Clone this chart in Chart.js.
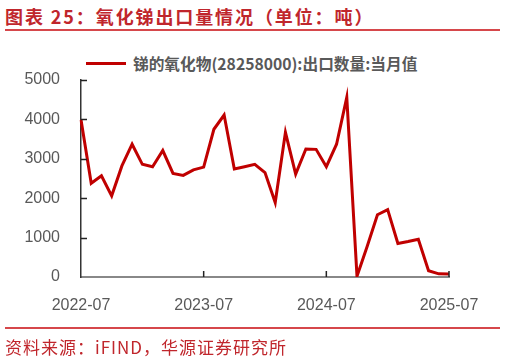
<!DOCTYPE html>
<html><head><meta charset="utf-8">
<script src="https://cdn.jsdelivr.net/npm/chart.js@4"></script>
<style>
body{margin:0;width:506px;height:361px;background:#fff;position:relative;overflow:hidden;font-family:"Noto Sans CJK SC",sans-serif;}
#title{position:absolute;left:5px;top:3px;font-size:18px;font-weight:bold;color:#c0262c;letter-spacing:1.9px;line-height:26px;white-space:nowrap}
.rule{position:absolute;left:5px;width:495px;height:2px;background:#d6474b}
#legend{position:absolute;left:86px;top:52px;height:22px;display:flex;align-items:center;white-space:nowrap}
#legend .sw{width:40px;height:3px;background:#c00000;margin-right:7px}
#legend span{font-size:15.7px;font-weight:bold;color:#595959}
#footer{position:absolute;left:5px;top:335px;font-size:17px;color:#c0262c;line-height:24px;letter-spacing:1px;white-space:nowrap}
canvas{position:absolute;left:0;top:0}
</style></head>
<body>
<div id="title">图表 25：氧化锑出口量情况（单位：吨）</div>
<div class="rule" style="top:29px"></div>
<div id="legend"><div class="sw"></div><span>锑的氧化物(28258000):出口数量:当月值</span></div>
<canvas id="c" width="506" height="361"></canvas>
<div class="rule" style="top:327px"></div>
<div id="footer">资料来源：iFIND，华源证券研究所</div>
<script>
const categories = ['2022-07','2022-08','2022-09','2022-10','2022-11','2022-12',
'2023-01','2023-02','2023-03','2023-04','2023-05','2023-06','2023-07','2023-08','2023-09','2023-10','2023-11','2023-12',
'2024-01','2024-02','2024-03','2024-04','2024-05','2024-06','2024-07','2024-08','2024-09','2024-10','2024-11','2024-12',
'2025-01','2025-02','2025-03','2025-04','2025-05','2025-06','2025-07'];
const exportValues = [3990,2380,2570,2060,2820,3370,
2860,2800,3210,2630,2580,2720,2790,3750,4110,2740,2800,2860,
2650,1890,3670,2610,3250,3240,2800,3370,4560,20,780,1580,
1710,850,900,960,160,80,75];
const xTickLabels = ['2022-07','2023-07','2024-07','2025-07'];
const yTickValues = [0,1000,2000,3000,4000,5000];

const innerTicks = {
  id:'innerTicks',
  afterDraw(chart){
    const ctx = chart.ctx, x = chart.scales.x, y = chart.scales.y;
    ctx.save();
    ctx.strokeStyle = '#222';
    ctx.lineWidth = 1.5;
    ctx.beginPath();
    yTickValues.forEach(v=>{
      const py = Math.round(y.getPixelForValue(v))+0.5;
      if (v>0){ctx.moveTo(x.left, py); ctx.lineTo(x.left+6, py);}
    });
    categories.forEach((c,i)=>{
      if (xTickLabels.includes(c) && i>0){
        const px = x.getPixelForValue(i);
        ctx.moveTo(px, y.bottom); ctx.lineTo(px, y.bottom-6);
      }
    });
    ctx.stroke();
    ctx.restore();
  }
};

new Chart(document.getElementById('c'), {
  type:'line',
  data:{labels:categories, datasets:[{label:'锑的氧化物(28258000):出口数量:当月值', data:exportValues,
    borderColor:'#c00000', borderWidth:3, pointRadius:0, tension:0, fill:false}]},
  options:{
    responsive:false, animation:false,
    layout:{padding:{top:80,right:57,bottom:0,left:0}},
    plugins:{legend:{display:false}, tooltip:{enabled:false}},
    scales:{
      x:{type:'category', offset:false,
        grid:{display:false},
        border:{display:true,color:'#888',width:2},
        afterFit(s){s.height=84;},
        ticks:{autoSkip:false,maxRotation:0,padding:11,color:'#595959',
          font:{family:'"Liberation Sans", Arial',size:16},
          callback(v,i){const l=categories[i];return xTickLabels.includes(l)?l:'';}}
      },
      y:{min:0,max:5000,
        grid:{display:false},
        border:{display:true,color:'#333',width:1.5},
        afterFit(s){s.width=81;},
        ticks:{stepSize:1000,padding:13,color:'#595959',
          font:{family:'"Liberation Sans", Arial',size:16},
          callback(v){return String(v);}}
      }
    }
  },
  plugins:[innerTicks]
});
</script>
</body></html>
